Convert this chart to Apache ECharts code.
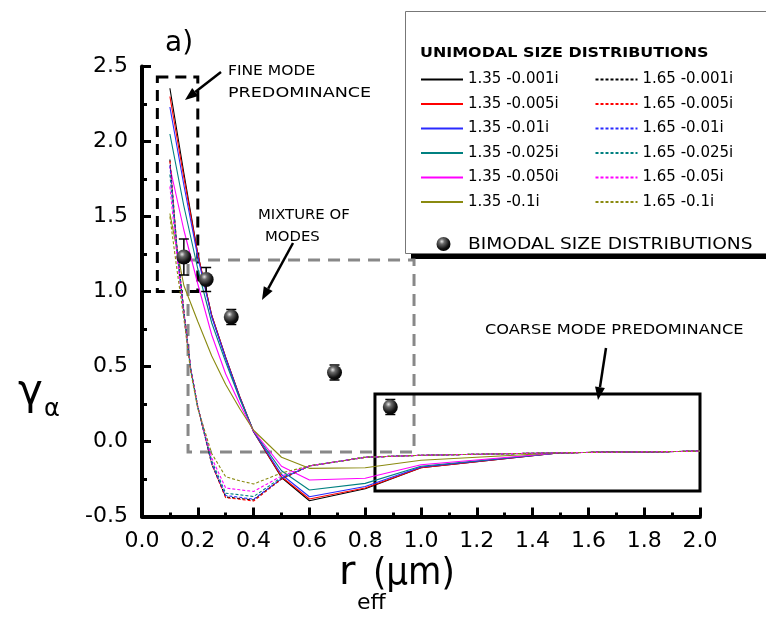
<!DOCTYPE html>
<html>
<head>
<meta charset="utf-8">
<script src="https://cdn.jsdelivr.net/npm/echarts@6/dist/echarts.min.js"></script>
<style>html,body{margin:0;padding:0;background:#fff}#main{width:766px;height:619px}</style>
</head>
<body>
<div id="main"></div>
<script>
// ---------- data ----------
const xTicks = ['0.0','0.2','0.4','0.6','0.8','1.0','1.2','1.4','1.6','1.8','2.0'];
const yTicks = ['-0.5','0.0','0.5','1.0','1.5','2.0','2.5'];

// r_eff values for unimodal m = 1.35 curves (solid)
const xSolid = [0.1, 0.15, 0.2, 0.25, 0.3, 0.35, 0.4, 0.5, 0.6, 0.8, 1.0, 1.5, 2.0];
const s135_001 = [2.355, 1.79, 1.25, 0.84, 0.56, 0.30, 0.065, -0.24, -0.395, -0.315, -0.175, -0.075, -0.065];
const s135_005 = [2.30, 1.76, 1.25, 0.84, 0.56, 0.30, 0.065, -0.235, -0.383, -0.31, -0.175, -0.075, -0.065];
const s135_01  = [2.23, 1.71, 1.23, 0.83, 0.555, 0.295, 0.065, -0.22, -0.368, -0.30, -0.17, -0.075, -0.065];
const s135_025 = [2.05, 1.57, 1.15, 0.79, 0.53, 0.285, 0.068, -0.195, -0.323, -0.279, -0.165, -0.075, -0.065];
const s135_050 = [1.83, 1.41, 1.05, 0.71, 0.45, 0.25, 0.07, -0.165, -0.257, -0.245, -0.155, -0.075, -0.065];
const s135_1   = [1.52, 1.04, 0.80, 0.57, 0.38, 0.22, 0.075, -0.105, -0.179, -0.175, -0.125, -0.075, -0.065];

// r_eff values for unimodal m = 1.65 curves (dashed)
const xDash = [0.1, 0.125, 0.15, 0.175, 0.2, 0.25, 0.3, 0.35, 0.4, 0.5, 0.6, 0.8, 1.0, 1.5, 2.0];
const s165_001 = [1.88, 1.30, 0.87, 0.48, 0.23, -0.15, -0.37, -0.38, -0.39, -0.25, -0.163, -0.105, -0.092, -0.075, -0.065];
const s165_005 = [1.87, 1.30, 0.87, 0.48, 0.23, -0.15, -0.375, -0.385, -0.397, -0.25, -0.163, -0.105, -0.092, -0.075, -0.065];
const s165_01  = [1.84, 1.29, 0.86, 0.48, 0.23, -0.145, -0.36, -0.372, -0.385, -0.248, -0.163, -0.105, -0.092, -0.075, -0.065];
const s165_025 = [1.78, 1.27, 0.85, 0.47, 0.23, -0.13, -0.345, -0.355, -0.367, -0.24, -0.163, -0.105, -0.092, -0.075, -0.065];
const s165_05  = [1.70, 1.24, 0.84, 0.47, 0.23, -0.11, -0.31, -0.322, -0.333, -0.23, -0.163, -0.105, -0.092, -0.075, -0.065];
const s165_1   = [1.50, 1.15, 0.82, 0.46, 0.22, -0.08, -0.235, -0.262, -0.283, -0.21, -0.163, -0.105, -0.092, -0.075, -0.065];

// bimodal size distributions
const bimX   = [0.15, 0.23, 0.32, 0.69, 0.89];
const bimY   = [1.23, 1.08, 0.83, 0.46, 0.23];
const bimErr = [0.12, 0.08, 0.05, 0.05, 0.05];

const solidNames = ['1.35 -0.001i','1.35 -0.005i','1.35 -0.01i','1.35 -0.025i','1.35 -0.050i','1.35 -0.1i'];
const dashNames  = ['1.65 -0.001i','1.65 -0.005i','1.65 -0.01i','1.65 -0.025i','1.65 -0.05i','1.65 -0.1i'];
const bimName = 'BIMODAL SIZE DISTRIBUTIONS';

// annotation boxes in data coordinates [xmin, ymin, xmax, ymax]
const fineBox   = [0.055, 1.0, 0.2, 2.43];
const mixBox    = [0.165, -0.07, 0.975, 1.21];
const coarseBox = [0.835, -0.33, 2.0, 0.317];

// ---------- styling ----------
const colors = ['#000000', '#ff0000', '#2a2aff', '#008080', '#ff00ff', '#8a8a10'];
const FONT = 'DejaVu Sans';
const solidSets = [s135_001, s135_005, s135_01, s135_025, s135_050, s135_1];
const dashSets  = [s165_001, s165_005, s165_01, s165_025, s165_05, s165_1];

const series = [];
solidSets.forEach((ys, i) => {
  series.push({
    name: solidNames[i], type: 'line', symbol: 'none', showSymbol: false, animation: false, z: 3,
    data: xSolid.map((x, k) => [x, ys[k]]),
    lineStyle: { color: colors[i], width: 1.1, type: 'solid' },
    itemStyle: { color: colors[i] }
  });
});
dashSets.forEach((ys, i) => {
  series.push({
    name: dashNames[i], type: 'line', symbol: 'none', showSymbol: false, animation: false, z: 3,
    data: xDash.map((x, k) => [x, ys[k]]),
    lineStyle: { color: colors[i], width: 1.1, type: [3, 2] },
    itemStyle: { color: colors[i] }
  });
});
const ballColor = {
  type: 'radial', x: 0.38, y: 0.32, r: 0.75,
  colorStops: [{ offset: 0, color: '#e6e6e6' }, { offset: 0.25, color: '#6a6a6a' }, { offset: 0.7, color: '#111' }, { offset: 1, color: '#000' }]
};
series.push({
  name: 'errbars', type: 'custom', animation: false, z: 4,
  data: bimX.map((x, k) => [x, bimY[k], bimErr[k]]),
  renderItem: function (params, api) {
    const x = api.value(0), y = api.value(1), e = api.value(2);
    const t = api.coord([x, y + e]), b = api.coord([x, y - e]);
    const w = 5;
    const st = { stroke: '#000', lineWidth: 1.5 };
    return { type: 'group', children: [
      { type: 'line', shape: { x1: t[0], y1: t[1], x2: b[0], y2: b[1] }, style: st },
      { type: 'line', shape: { x1: t[0] - w, y1: t[1], x2: t[0] + w, y2: t[1] }, style: st },
      { type: 'line', shape: { x1: b[0] - w, y1: b[1], x2: b[0] + w, y2: b[1] }, style: st }
    ]};
  }
});
series.push({
  name: bimName, type: 'scatter', animation: false, z: 5,
  symbol: 'circle', symbolSize: 15,
  data: bimX.map((x, k) => [x, bimY[k]]),
  itemStyle: { color: ballColor, opacity: 1 }
});

const option = {
  animation: false,
  backgroundColor: '#fff',
  grid: { left: 142, right: 66, top: 66.5, bottom: 102.5 },
  xAxis: {
    type: 'value', min: 0, max: 2, interval: 0.2,
    axisLine: { show: true, onZero: false, lineStyle: { color: '#000', width: 4 } },
    axisTick: { show: true, inside: true, length: 9, lineStyle: { color: '#000', width: 3 } },
    minorTick: { show: true, splitNumber: 2, length: 4, lineStyle: { color: '#000', width: 3 } },
    splitLine: { show: false },
    axisLabel: { margin: 14, color: '#000', fontSize: 22, fontFamily: FONT,
      formatter: (v) => xTicks[Math.round(v / 0.2)] }
  },
  yAxis: {
    type: 'value', min: -0.5, max: 2.5, interval: 0.5,
    axisLine: { show: true, onZero: false, lineStyle: { color: '#000', width: 4 } },
    axisTick: { show: true, inside: true, length: 9, lineStyle: { color: '#000', width: 3 } },
    minorTick: { show: true, splitNumber: 2, length: 5, lineStyle: { color: '#000', width: 3 } },
    splitLine: { show: false },
    axisLabel: { margin: 14, color: '#000', fontSize: 22, fontFamily: FONT,
      formatter: (v) => yTicks[Math.round((v + 0.5) / 0.5)] }
  },
  legend: [{
    data: solidNames.concat(dashNames),
    orient: 'vertical', left: 420, top: 72, height: 138,
    itemWidth: 42, itemHeight: 14, itemGap: 9.5, padding: 0,
    selectedMode: false,
    itemStyle: { opacity: 0 },
    textStyle: { fontFamily: FONT, fontSize: 15, color: '#000', width: 117, lineHeight: 14 }
  }],
  series: series
};

const chart = echarts.init(document.getElementById('main'), null, { renderer: 'canvas' });
chart.setOption(option);

function px(p) { return chart.convertToPixel({ gridIndex: 0 }, p); }
function boxRect(b, style, z) {
  const a = px([b[0], b[3]]), c = px([b[2], b[1]]);
  return { type: 'rect', z: z, silent: true, shape: { x: a[0], y: a[1], width: c[0] - a[0], height: c[1] - a[1] },
    style: Object.assign({ fill: 'none' }, style) };
}
function arrow(x1, y1, x2, y2) {
  const ang = Math.atan2(y2 - y1, x2 - x1), L = 13, W = 5;
  const bx = x2 - L * Math.cos(ang), by = y2 - L * Math.sin(ang);
  const nx = -Math.sin(ang) * W, ny = Math.cos(ang) * W;
  return { type: 'group', z: 10, silent: true, children: [
    { type: 'line', shape: { x1: x1, y1: y1, x2: bx, y2: by }, style: { stroke: '#000', lineWidth: 2.5 } },
    { type: 'polygon', shape: { points: [[x2, y2], [bx + nx, by + ny], [bx - nx, by - ny]] }, style: { fill: '#000' } }
  ]};
}
function txt(x, y, s, size, extra, sx) {
  return { type: 'text', z: 10, silent: true, x: x, y: y, scaleX: sx || 1, originX: 0, originY: 0,
    style: Object.assign({ text: s, fontFamily: FONT, fontSize: size, fill: '#000', verticalAlign: 'middle', align: 'left' }, extra || {}) };
}

chart.setOption({
  graphic: [
    // legend frame
    { type: 'rect', z: 0, silent: true, shape: { x: 411, y: 253, width: 355, height: 6 }, style: { fill: '#000' } },
    { type: 'rect', z: 1, silent: true, shape: { x: 405.5, y: 11.5, width: 361, height: 242 }, style: { fill: '#fff', stroke: '#777', lineWidth: 1 } },
    txt(420, 53, 'UNIMODAL SIZE DISTRIBUTIONS', 14.5, { fontWeight: 'bold' }, 1.1),
    // bimodal legend entry
    { type: 'circle', z: 10, silent: true, shape: { cx: 443.5, cy: 244, r: 7 }, style: { fill: ballColor } },
    txt(468, 245, bimName, 15.5, null, 1.2),
    // annotation boxes
    boxRect(fineBox, { stroke: '#000', lineWidth: 3, lineDash: [11, 7] }, 1),
    boxRect(mixBox, { stroke: '#888', lineWidth: 3, lineDash: [12, 8] }, 1),
    boxRect(coarseBox, { stroke: '#000', lineWidth: 3 }, 1),
    // arrows
    arrow(221, 72, 185, 100),
    arrow(293, 243, 262, 300),
    arrow(606, 348, 598, 400),
    // annotation texts
    txt(165, 44, 'a)', 28),
    txt(228, 71, 'FINE MODE', 13.5, null, 1.15),
    txt(228, 93, 'PREDOMINANCE', 13.5, null, 1.3),
    txt(258, 215, 'MIXTURE OF', 13.5, null, 1.1),
    txt(265, 237, 'MODES', 13.5, null, 1.1),
    txt(485, 330, 'COARSE MODE PREDOMINANCE', 13.5, null, 1.2),
    // axis titles
    txt(339, 574, 'r', 40),
    txt(357, 603, 'eff', 22),
    txt(373, 574, '(\u03bcm)', 38, null, 0.9),
    txt(18, 393, '\u03b3', 42),
    txt(44, 410, '\u03b1', 24)
  ]
});
</script>
</body>
</html>
